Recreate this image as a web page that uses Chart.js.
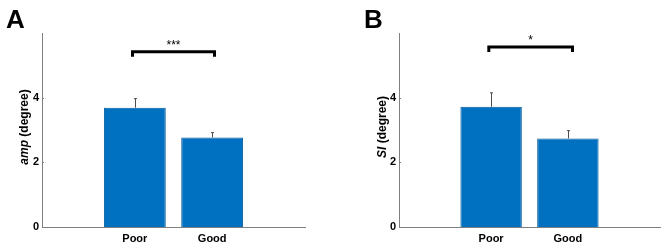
<!DOCTYPE html>
<html>
<head>
<meta charset="utf-8">
<script src="https://cdn.jsdelivr.net/npm/chart.js@4.4.1/dist/chart.umd.min.js"></script>
<style>
  body { margin: 0; background: #fff; }
  .wrap { display: flex; width: 669px; height: 248px; }
  .panel { width: 334px; height: 248px; position: relative; }
  .panel + .panel { margin-left: 1px; }
</style>
</head>
<body>
<div class="wrap">
  <div class="panel"><canvas id="chartA" width="334" height="248"></canvas></div>
  <div class="panel"><canvas id="chartB" width="334" height="248"></canvas></div>
</div>
<script>
const categories = ["Poor", "Good"];
const categoryPos = [1, 2];
const yTicks = [0, 2, 4];
const yMax = 6;

const ampMeans = [3.69, 2.77];
const ampErrors = [0.28, 0.15];
const siMeans = [3.72, 2.74];
const siErrors = [0.43, 0.24];

const ampBracket = { from: 0.97, to: 2.03, level: 5.42, label: "***" };
const siBracket = { from: 0.97, to: 2.06, level: 5.57, label: "*" };

const barBlue = "#0070c0";
const axisGray = "#7f7f7f";
const fontFamily = "'Liberation Sans', Arial, sans-serif";

// error bars, significance bracket, y title and panel letter
const extrasPlugin = {
  id: "extras",
  afterDatasetsDraw(chart, args, opts) {
    const ctx = chart.ctx;
    const xs = chart.scales.x, ys = chart.scales.y;
    ctx.save();

    // small inward tick marks on the y axis
    ctx.strokeStyle = axisGray;
    ctx.lineWidth = 1;
    yTicks.forEach((v) => {
      const py = Math.round(ys.getPixelForValue(v)) + 0.5;
      ctx.beginPath();
      ctx.moveTo(xs.left, py);
      ctx.lineTo(xs.left + 2, py);
      ctx.stroke();
    });

    // upper error bars
    ctx.strokeStyle = "#4d4d4d";
    opts.means.forEach((m, i) => {
      const px = Math.round(xs.getPixelForValue(categoryPos[i])) + 0.5;
      const top = ys.getPixelForValue(m + opts.errors[i]);
      ctx.beginPath();
      ctx.moveTo(px, ys.getPixelForValue(m));
      ctx.lineTo(px, top);
      ctx.moveTo(px - 1.5, top);
      ctx.lineTo(px + 1.5, top);
      ctx.stroke();
    });

    // bracket
    const b = opts.bracket;
    const x1 = xs.getPixelForValue(b.from), x2 = xs.getPixelForValue(b.to);
    const yb = ys.getPixelForValue(b.level);
    ctx.strokeStyle = "#000";
    ctx.lineWidth = 3;
    ctx.lineCap = "butt";
    ctx.beginPath();
    ctx.moveTo(x1, yb + 5);
    ctx.lineTo(x1, yb);
    ctx.lineTo(x2, yb);
    ctx.lineTo(x2, yb + 5);
    ctx.stroke();
    ctx.fillStyle = "#000";
    ctx.font = "12px " + fontFamily;
    ctx.textAlign = "center";
    ctx.textBaseline = "alphabetic";
    ctx.fillText(b.label, (x1 + x2) / 2, yb - 3);

    // y title, first part italic
    const cy = (ys.top + ys.bottom) / 2 - 3;
    ctx.translate(opts.titleX, cy);
    ctx.rotate(-Math.PI / 2);
    ctx.font = "italic bold 12px " + fontFamily;
    const w1 = ctx.measureText(opts.titleItalic).width;
    ctx.font = "bold 12px " + fontFamily;
    const w2 = ctx.measureText(opts.titleRest).width;
    let tx = -(w1 + w2) / 2;
    ctx.textAlign = "left";
    ctx.textBaseline = "middle";
    ctx.font = "italic bold 12px " + fontFamily;
    ctx.fillText(opts.titleItalic, tx, 0);
    ctx.font = "bold 12px " + fontFamily;
    ctx.fillText(opts.titleRest, tx + w1, 0);
    ctx.restore();

    // panel letter
    ctx.save();
    ctx.fillStyle = "#000";
    ctx.font = "bold 26px " + fontFamily;
    ctx.textAlign = "left";
    ctx.textBaseline = "alphabetic";
    ctx.fillText(opts.letter, opts.letterX, 28);
    ctx.restore();
  }
};

function makeChart(id, means, errors, bracket, cfg) {
  return new Chart(document.getElementById(id), {
    type: "bar",
    data: {
      datasets: [{
        data: means.map((v, i) => ({ x: categoryPos[i], y: v })),
        backgroundColor: barBlue,
        borderColor: "#005a9e",
        borderWidth: 1,
        barPercentage: 0.8,
        categoryPercentage: 1.0
      }]
    },
    options: {
      responsive: false,
      animation: false,
      layout: { padding: { top: 33, right: cfg.rightPad, left: 0, bottom: 0 } },
      plugins: {
        legend: { display: false },
        tooltip: { enabled: false },
        extras: {
          means, errors, bracket,
          titleItalic: cfg.titleItalic, titleRest: cfg.titleRest,
          titleX: cfg.titleX, letter: cfg.letter, letterX: cfg.letterX
        }
      },
      scales: {
        x: {
          type: "linear",
          min: -0.2,
          max: 3.2,
          offset: false,
          grid: { display: false, drawTicks: false, offset: false },
          border: { display: true, color: axisGray, width: 1 },
          afterBuildTicks: (s) => { s.ticks = categoryPos.map(v => ({ value: v })); },
          afterFit: (s) => { s.height = 21; },
          ticks: {
            color: "#000",
            padding: 5,
            maxRotation: 0,
            font: { family: fontFamily, size: 11, weight: "bold" },
            callback: (v) => categories[categoryPos.indexOf(v)] ?? ""
          }
        },
        y: {
          min: 0,
          max: yMax,
          grid: { display: false, drawTicks: false },
          border: { display: true, color: axisGray, width: 1 },
          afterBuildTicks: (s) => { s.ticks = yTicks.map(v => ({ value: v })); },
          afterFit: (s) => { s.width = cfg.axisX; },
          ticks: {
            color: "#000",
            padding: 3,
            font: { family: fontFamily, size: 11, weight: "bold" }
          }
        }
      }
    },
    plugins: [extrasPlugin]
  });
}

makeChart("chartA", ampMeans, ampErrors, ampBracket, {
  axisX: 42, rightPad: 29, titleItalic: "amp", titleRest: " (degree)",
  titleX: 25, letter: "A", letterX: 6
});
makeChart("chartB", siMeans, siErrors, siBracket, {
  axisX: 64, rightPad: 9, titleItalic: "SI", titleRest: " (degree)",
  titleX: 48, letter: "B", letterX: 29
});
</script>
</body>
</html>
